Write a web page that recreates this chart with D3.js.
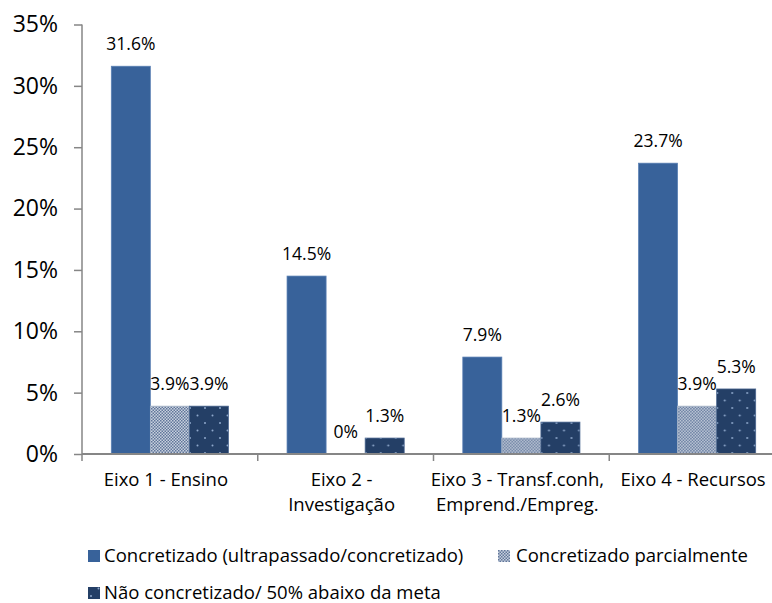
<!DOCTYPE html>
<html>
<head>
<meta charset="utf-8">
<script src="https://cdn.jsdelivr.net/npm/d3@7"></script>
<style>
  body { margin: 0; background: #fff; }
  text { font-family: "Open Sans", sans-serif; fill: #000; }
</style>
</head>
<body>
<div id="chart"></div>
<script>
// data
var categories = [["Eixo 1 - Ensino"], ["Eixo 2 -", "Investigação"], ["Eixo 3 - Transf.conh,", "Emprend./Empreg."], ["Eixo 4 - Recursos"]];
var seriesNames = ["Concretizado (ultrapassado/concretizado)", "Concretizado parcialmente", "Não concretizado/ 50% abaixo da meta"];
var concretizado = [31.6, 14.5, 7.9, 23.7];
var parcial = [3.9, 0, 1.3, 3.9];
var naoConcretizado = [3.9, 1.3, 2.6, 5.3];
var yTicks = [0, 5, 10, 15, 20, 25, 30, 35];

var width = 772, height = 603;
var margin = { left: 82, right: -13, top: 24.5, bottom: 149 };

var svg = d3.select("#chart").append("svg")
    .attr("width", width)
    .attr("height", height);

// patterns
var defs = svg.append("defs");
var checker = defs.append("pattern")
    .attr("id", "checker")
    .attr("patternUnits", "userSpaceOnUse")
    .attr("width", 3).attr("height", 3);
checker.append("rect").attr("width", 3).attr("height", 3).attr("fill", "#c9d1de");
checker.append("rect").attr("width", 1.5).attr("height", 1.5).attr("fill", "#60769a");
checker.append("rect").attr("x", 1.5).attr("y", 1.5).attr("width", 1.5).attr("height", 1.5).attr("fill", "#60769a");

var dots = defs.append("pattern")
    .attr("id", "dots")
    .attr("patternUnits", "userSpaceOnUse")
    .attr("width", 15).attr("height", 15);
dots.append("rect").attr("width", 15).attr("height", 15).attr("fill", "#243f66");
dots.append("circle").attr("cx", 3).attr("cy", 3).attr("r", 1).attr("fill", "#8fa8cc");
dots.append("circle").attr("cx", 10.5).attr("cy", 10.5).attr("r", 1).attr("fill", "#8fa8cc");

var fills = ["#38629a", "url(#checker)", "url(#dots)"];
var strokes = ["#5a80b4", "#a9b6c9", "#4a6690"];

var xLeft = margin.left, xRight = width - margin.right;
var yBottom = height - margin.bottom, yTop = margin.top;

var x0 = d3.scaleBand()
    .domain(d3.range(categories.length))
    .range([xLeft, xRight]);

var x1 = d3.scaleBand()
    .domain(d3.range(seriesNames.length))
    .range([0, x0.bandwidth()])
    .paddingInner(0)
    .paddingOuter(0.75);

var y = d3.scaleLinear()
    .domain([0, 35])
    .range([yBottom, yTop]);

var data = categories.map(function(c, i) {
    return [concretizado[i], parcial[i], naoConcretizado[i]];
});

// y axis
var yAxis = svg.append("g")
    .attr("transform", "translate(" + xLeft + ",0)")
    .call(d3.axisLeft(y).tickValues(yTicks).tickSize(8).tickPadding(16)
        .tickFormat(function(d) { return d + "%"; }));
yAxis.select(".domain").attr("stroke", "#868686").attr("stroke-width", 1.5).attr("d", "M0," + yTop + "V" + yBottom);
yAxis.selectAll(".tick line").attr("stroke", "#868686").attr("stroke-width", 1.5);
yAxis.selectAll(".tick text").attr("font-size", 23).attr("font-family", "Open Sans, sans-serif").attr("fill", "#000");

// bars
var groups = svg.append("g").selectAll("g")
    .data(data)
    .enter().append("g")
    .attr("transform", function(d, i) { return "translate(" + x0(i) + ",0)"; });

groups.selectAll("rect")
    .data(function(d) { return d; })
    .enter().append("rect")
    .attr("x", function(d, j) { return x1(j); })
    .attr("y", function(d) { return y(d); })
    .attr("width", x1.bandwidth())
    .attr("height", function(d) { return yBottom - y(d); })
    .attr("fill", function(d, j) { return fills[j]; })
    .attr("stroke", function(d, j) { return d > 0 ? strokes[j] : "none"; })
    .attr("stroke-width", 0.75);

groups.selectAll("text.lbl")
    .data(function(d) { return d; })
    .enter().append("text")
    .attr("class", "lbl")
    .attr("x", function(d, j) { return x1(j) + x1.bandwidth() / 2; })
    .attr("y", function(d) { return y(d) - 22; })
    .attr("dy", "0.35em")
    .attr("text-anchor", "middle")
    .attr("font-size", 17.5)
    .text(function(d) { return d === 0 ? "0%" : d.toFixed(1) + "%"; });

// x axis
var xAxis = svg.append("g");
xAxis.append("line")
    .attr("x1", xLeft).attr("x2", xRight)
    .attr("y1", yBottom).attr("y2", yBottom)
    .attr("stroke", "#868686").attr("stroke-width", 2);
xAxis.selectAll("line.tk")
    .data(d3.range(categories.length + 1))
    .enter().append("line")
    .attr("class", "tk")
    .attr("x1", function(i) { return i < categories.length ? x0(i) : xRight; })
    .attr("x2", function(i) { return i < categories.length ? x0(i) : xRight; })
    .attr("y1", yBottom).attr("y2", yBottom + 7)
    .attr("stroke", "#868686").attr("stroke-width", 1.5);

xAxis.selectAll("text")
    .data(categories)
    .enter().append("text")
    .attr("x", function(d, i) { return x0(i) + x0.bandwidth() / 2 - 4; })
    .attr("y", yBottom + 26)
    .attr("text-anchor", "middle")
    .attr("font-size", 18.5)
    .each(function(lines) {
        var t = d3.select(this);
        lines.forEach(function(l, k) {
            t.append("tspan")
                .attr("x", t.attr("x"))
                .attr("dy", k === 0 ? "0.35em" : 25)
                .text(l);
        });
    });

// legend
var legendPos = [[88, 556], [498, 556], [88, 593]];
var legend = svg.append("g").selectAll("g")
    .data(seriesNames)
    .enter().append("g")
    .attr("transform", function(d, i) { return "translate(" + legendPos[i][0] + "," + legendPos[i][1] + ")"; });

legend.append("rect")
    .attr("x", 0).attr("y", -6)
    .attr("width", 12).attr("height", 12)
    .attr("fill", function(d, i) { return fills[i]; });

legend.append("text")
    .attr("x", function(d, i) { return i === 1 ? 18 : 16; })
    .attr("dy", "0.35em")
    .attr("font-size", 18.5)
    .text(function(d) { return d; });
</script>
</body>
</html>
